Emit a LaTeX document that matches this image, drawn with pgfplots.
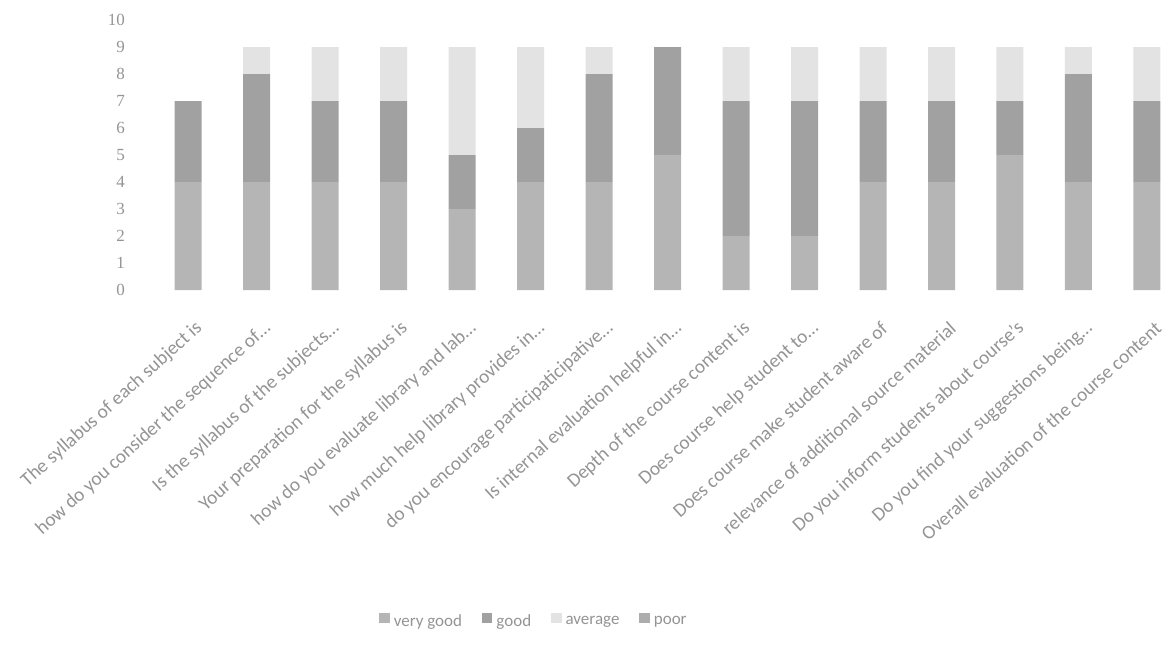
\documentclass[border=0pt]{standalone}
\usepackage{fontspec}
\setmainfont{Carlito}
\newfontfamily\tickfont{Liberation Serif}
\usepackage{pgfplots}
\usepackage{pgfplotstable}
\pgfplotsset{compat=1.18}
\definecolor{cvg}{gray}{0.71}
\definecolor{cgood}{gray}{0.63}
\definecolor{cavg}{gray}{0.89}
\definecolor{cpoor}{gray}{0.68}
\definecolor{txt}{gray}{0.58}
\pgfplotstableread{
x vg good avg poor
0 4 3 0 0
1 4 4 1 0
2 4 3 2 0
3 4 3 2 0
4 3 2 4 0
5 4 2 3 0
6 4 4 1 0
7 5 4 0 0
8 2 5 2 0
9 2 5 2 0
10 4 3 2 0
11 4 3 2 0
12 5 2 2 0
13 4 4 1 0
14 4 3 2 0
}\data
\begin{document}
\begin{tikzpicture}
\path[use as bounding box] (0pt,0pt) rectangle (581pt,322.5pt);
\begin{axis}[
  at={(77pt,177.5pt)}, anchor=south west,
  scale only axis, width=504pt, height=135pt,
  ybar stacked, bar width=13.5pt,
  xmin=-0.5, xmax=14.22, ymin=0, ymax=10,
  ytick={0,1,...,10},
  xtick={0,1,...,14},
  xticklabels={
    The syllabus of each subject is,
    how do you consider the sequence of…,
    Is the syllabus of the subjects…,
    Your preparation for the syllabus is,
    how do you evaluate library and lab…,
    how much help library provides in…,
    do you encourage participaticipative…,
    Is internal evaluation helpful in…,
    Depth of the course content is,
    Does course help student to…,
    Does course make student aware of,
    relevance of additional source material,
    Do you inform students about course's,
    Do you find your suggestions being…,
    Overall evaluation of the course content},
  axis line style={draw=none},
  major tick length=0pt,
  tick style={draw=none},
  /pgf/number format/assume math mode=true,
  yticklabel style={text=txt, font=\tickfont\fontsize{8.5}{9}\selectfont, xshift=-11pt},
  xticklabel style={rotate=42, anchor=east, inner sep=0pt, text=txt,
    font=\fontsize{9.7}{11}\selectfont, xshift=-7.5pt, yshift=-17pt},
  legend style={at={(0.378,-1.23)}, anchor=center, legend columns=4, draw=none, fill=none,
    font=\fontsize{8.5}{9}\selectfont, text=txt,
    /tikz/every even column/.append style={column sep=8pt}},
  legend image code/.code={\fill[#1,draw=none] (0pt,-0.6pt) rectangle (5.2pt,4.6pt);},
]
\addplot[fill=cvg, draw=none] table[x=x, y=vg] {\data};
\addplot[fill=cgood, draw=none] table[x=x, y=good] {\data};
\addplot[fill=cavg, draw=none] table[x=x, y=avg] {\data};
\addplot[fill=cpoor, draw=none] table[x=x, y=poor] {\data};
\legend{very good, good, average, poor}
\end{axis}
\end{tikzpicture}
\end{document}
